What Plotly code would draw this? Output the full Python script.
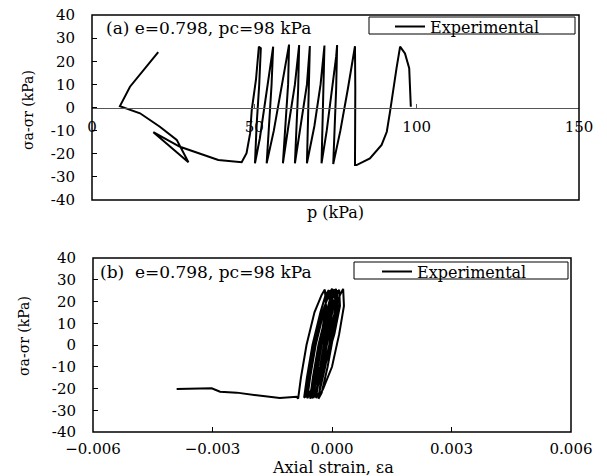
import plotly.graph_objects as go

# ---------------- data (a): deviator stress vs mean effective stress ----------------
p_a = [20.4, 15.8, 11.7, 8.6, 14.8, 20.9, 26.1, 29.7, 18.9, 27.1, 38.9, 46.1, 47.6, 48.7, 49.2, 50.5, 51.4,
       52.0, 51.5, 50.7, 50.2,
       51.7, 53.3, 54.8, 55.8,
       55.3, 53.8,
       56.0, 58.2, 60.2, 60.7,
       60.4, 58.8,
       60.5, 62.5, 63.8,
       63.5, 62.5,
       64.3, 66.2, 67.1,
       66.8, 66.2,
       68.5, 70.4, 71.6,
       71.2, 70.7,
       72.3, 74.0, 75.2, 75.5,
       75.2, 74.3,
       76.5, 78.8, 80.5, 81.0,
       81.1, 81.0,
       81.5, 85.6, 89.2, 90.8, 91.8, 92.8, 93.8, 94.9, 96.4, 97.7, 98.2]
q_a = [23.9, 16.2, 9.0, 0.6, -2.5, -8.3, -14.0, -23.7, -10.7, -17.0, -22.7, -23.7, -19.8, -11.2, -1.1, 12.0, 26.3,
       25.6, 9.7, -7.6, -24.1,
       -13.3, 2.5, 17.0, 26.3,
       9.7, -24.1,
       -10.0, 8.0, 24.0, 27.2,
       10.0, -24.1,
       -8.0, 10.0, 27.0,
       8.0, -24.1,
       -8.0, 10.0, 26.6,
       8.0, -24.1,
       -8.0, 10.0, 26.8,
       8.0, -24.1,
       -10.0, 8.0, 22.0, 27.0,
       8.0, -24.4,
       -10.0, 8.0, 23.0, 26.5,
       8.0, -24.9,
       -24.9, -22.0, -16.2, -10.5, -1.8, 8.3, 17.0, 26.3, 23.4, 17.0, 0.3]

# ---------------- data (b): deviator stress vs axial strain ----------------
eps_b = [-0.00390, -0.00302, -0.00281, -0.00239, -0.00189, -0.00131, -0.00089, -0.00085,
         -0.00078, -0.00064, -0.00044, -0.00026, -0.00018,
         -0.00015, -0.00026, -0.00040, -0.00054, -0.00062,
         -0.00055, -0.00041, -0.00021, -0.00011, -0.00003,
         0.00000, -0.00011, -0.00025, -0.00039, -0.00047,
         -0.00040, -0.00026, -0.00006, 0.00002, 0.00010,
         0.00012, 0.00000, -0.00020, -0.00056, -0.00070,
         -0.00063, -0.00049, -0.00029, -0.00016, -0.00008,
         -0.00005, -0.00016, -0.00030, -0.00047, -0.00055,
         -0.00048, -0.00034, -0.00014, -0.00002, 0.00006,
         0.00009, -0.00002, -0.00017, -0.00032, -0.00040,
         -0.00033, -0.00019, 0.00001, 0.00010, 0.00018,
         0.00020, 0.00006, -0.00018, -0.00052, -0.00065,
         -0.00058, -0.00044, -0.00024, -0.00008, 0.00000,
         0.00003, -0.00008, -0.00023, -0.00042, -0.00050,
         -0.00043, -0.00029, -0.00009, 0.00004, 0.00012,
         0.00015, 0.00004, -0.00011, -0.00026, -0.00034,
         -0.00027, -0.00013, 0.00007, 0.00020, 0.00028,
         0.00030, 0.00018, 0.00000, -0.00022, -0.00034]
q_b = [-20.2, -19.9, -21.5, -21.9, -23.1, -24.4, -23.8, -24.6,
       -15, 0, 15, 23, 25.5,
       18, 5, -10, -22, -24.5,
       -15, 0, 15, 23, 25.0,
       18, 5, -10, -22, -24.3,
       -15, 0, 15, 23, 25.8,
       18, 5, -10, -22, -24.2,
       -15, 0, 15, 23, 25.3,
       18, 5, -10, -22, -24.6,
       -15, 0, 15, 23, 25.6,
       18, 5, -10, -22, -24.4,
       -15, 0, 15, 23, 25.4,
       18, 5, -10, -22, -24.0,
       -15, 0, 15, 23, 25.9,
       18, 5, -10, -22, -24.5,
       -15, 0, 15, 23, 25.2,
       18, 5, -10, -22, -24.7,
       -15, 0, 15, 23, 25.8,
       18, 5, -10, -20, -24.5]

# ---------------- tick labels ----------------
xa_ticks = [0, 50, 100, 150]
xa_text = ["0", "50", "100", "150"]
xb_ticks = [-0.006, -0.003, 0.0, 0.003, 0.006]
xb_text = ["\u22120.006", "\u22120.003", "0.000", "0.003", "0.006"]
y_ticks = [-40, -30, -20, -10, 0, 10, 20, 30, 40]
y_text = ["-40", "-30", "-20", "-10", "0", "10", "20", "30", "40"]

W, H = 607, 476
FONT = "DejaVu Serif"

def px(x):
    return x / W

def py(y):
    return 1 - y / H

fig = go.Figure()
fig.add_trace(go.Scatter(x=p_a, y=q_a, mode="lines", name="Experimental",
                         line=dict(color="black", width=2), xaxis="x", yaxis="y", legend="legend"))
fig.add_trace(go.Scatter(x=eps_b, y=q_b, mode="lines", name="Experimental",
                         line=dict(color="black", width=2), xaxis="x2", yaxis="y2", legend="legend2"))

tickfont = dict(family=FONT, size=15, color="black")

# panel domains
xa_dom = [px(92), px(579)]
ya_dom = [py(200), py(15)]
xb_dom = [px(93), px(571)]
yb_dom = [py(432), py(258)]

legfont = dict(family=FONT, size=16, color="black")

fig.update_layout(
    width=W, height=H,
    margin=dict(l=0, r=0, t=0, b=0, autoexpand=False),
    paper_bgcolor="white", plot_bgcolor="white",
    font=dict(family=FONT, color="black"),
    xaxis=dict(domain=xa_dom, range=[0, 150], anchor="free",
               position=(ya_dom[0] + ya_dom[1]) / 2, automargin=False,
               showline=True, linecolor="#555555", linewidth=1,
               ticks="inside", ticklen=4, tickcolor="#555555",
               tickvals=xa_ticks, ticktext=xa_text, tickfont=tickfont,
               ticklabelstandoff=5, showgrid=False, zeroline=False),
    yaxis=dict(domain=ya_dom, range=[-40, 40], anchor="x", automargin=False,
               showline=False, ticks="inside", ticklen=5, tickcolor="black",
               tickvals=y_ticks, ticktext=y_text, tickfont=tickfont,
               ticklabelstandoff=16, showgrid=False, zeroline=False),
    xaxis2=dict(domain=xb_dom, range=[-0.006, 0.006], anchor="y2", automargin=False,
                showline=False, ticks="inside", ticklen=5, tickcolor="black",
                tickvals=xb_ticks, ticktext=xb_text, tickfont=tickfont,
                ticklabelstandoff=6, showgrid=False, zeroline=False),
    yaxis2=dict(domain=yb_dom, range=[-40, 40], anchor="x2", automargin=False,
                showline=False, ticks="inside", ticklen=5, tickcolor="black",
                tickvals=y_ticks, ticktext=y_text, tickfont=tickfont,
                ticklabelstandoff=16, showgrid=False, zeroline=False),
    legend=dict(x=px(390), y=py(26.5), xanchor="left", yanchor="middle",
                bgcolor="rgba(0,0,0,0)", borderwidth=0, font=legfont,
                itemwidth=30, tracegroupgap=0),
    legend2=dict(x=px(377), y=py(271.5), xanchor="left", yanchor="middle",
                 bgcolor="rgba(0,0,0,0)", borderwidth=0, font=legfont,
                 itemwidth=30, tracegroupgap=0),
    showlegend=True,
)

# plot frames
for xr, yr in (("x domain", "y domain"), ("x2 domain", "y2 domain")):
    fig.add_shape(type="rect", xref=xr, yref=yr, x0=0, x1=1, y0=0, y1=1,
                  line=dict(color="black", width=1.5), layer="above")

# legend boxes
for (x0, y0, x1, y1) in ((369, 17, 575, 34), (354, 262, 568, 279)):
    fig.add_shape(type="rect", xref="paper", yref="paper",
                  x0=px(x0), x1=px(x1), y0=py(y1), y1=py(y0),
                  line=dict(color="black", width=1), fillcolor="white", layer="above")

ann_font = dict(family=FONT, size=17, color="black")
fig.add_annotation(text="(a) e=0.798, pc=98 kPa", x=px(104), y=py(28), xref="paper", yref="paper",
                   xanchor="left", yanchor="middle", showarrow=False, font=ann_font)
fig.add_annotation(text="(b)  e=0.798, pc=98 kPa", x=px(98), y=py(272), xref="paper", yref="paper",
                   xanchor="left", yanchor="middle", showarrow=False, font=ann_font)
title_font = dict(family=FONT, size=16, color="black")
fig.add_annotation(text="p (kPa)", x=px(335), y=py(212), xref="paper", yref="paper",
                   xanchor="center", yanchor="middle", showarrow=False, font=title_font)
fig.add_annotation(text="Axial strain, \u03b5a", x=px(333), y=py(467), xref="paper", yref="paper",
                   xanchor="center", yanchor="middle", showarrow=False, font=title_font)
ytitle_font = dict(family=FONT, size=14, color="black")
fig.add_annotation(text="\u03c3a-\u03c3r (kPa)", x=px(28), y=py(110), xref="paper", yref="paper",
                   xanchor="center", yanchor="middle", textangle=-90, showarrow=False, font=ytitle_font)
fig.add_annotation(text="\u03c3a-\u03c3r (kPa)", x=px(24), y=py(336), xref="paper", yref="paper",
                   xanchor="center", yanchor="middle", textangle=-90, showarrow=False, font=ytitle_font)

fig.write_html("out.html", config={"displayModeBar": False},
               post_script="document.body.style.margin='0px';")
